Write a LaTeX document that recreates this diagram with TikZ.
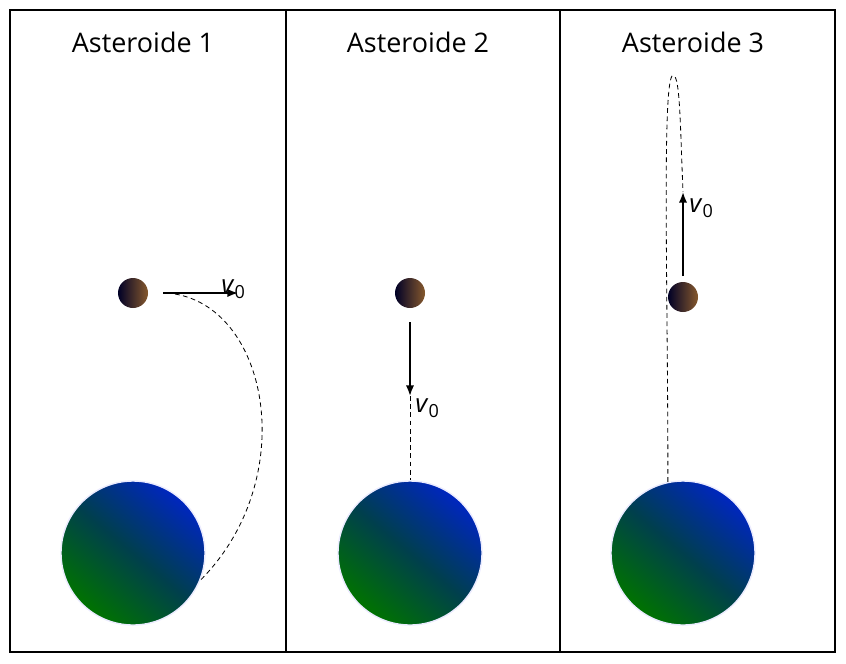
\documentclass[tikz,border=0pt]{standalone}
\usepackage{fontspec}
\usetikzlibrary{arrows.meta}
\setmainfont{Open Sans}
\begin{document}
\begin{tikzpicture}[x=0.03cm,y=-0.03cm]
  \tikzset{
    title/.style={font=\fontsize{23}{27}\selectfont},
    vel/.style={font=\fontsize{22}{26}\selectfont, inner sep=1pt},
    planet/.style={circle, minimum size=4.32cm, inner sep=0pt, draw=blue!8, line width=1.2pt,
      shading=axis, bottom color=green!45!black, top color=blue!80!cyan!75!black,
      middle color=blue!55!green!55!black, shading angle=-40},
    rock/.style={circle, minimum size=0.9cm, inner sep=0pt,
      left color=black!85!blue, right color=brown!70!black},
    push/.style={-{Latex[length=9pt,width=7pt]}, line width=1.5pt},
    track/.style={dash pattern=on 4pt off 3pt, line width=0.7pt}
  }
  \useasboundingbox (0,0) rectangle (846,663);
  % frames
  \draw[line width=1.4pt] (10,10) rectangle (835,652);
  \draw[line width=1.4pt] (286,10) -- (286,652);
  \draw[line width=1.4pt] (560,10) -- (560,652);
  \node[title] at (143,42) {Asteroide 1};
  \node[title] at (418,42) {Asteroide 2};
  \node[title] at (693,42) {Asteroide 3};
  % planets
  \node[planet] (p1) at (133,553) {};
  \node[planet] (p2) at (410,553) {};
  \node[planet] (p3) at (683,553) {};
  % asteroid 1
  \node[rock] (a1) at (133,293) {};
  \coordinate (s1) at (163,293);
  \coordinate (e1) at (238,293);
  \node[vel, anchor=south west] (v1) at (220,300) {\textit{v}\textsubscript{0}};
  \draw[push] (s1) -- (e1);
  \draw[track] (175,294) .. controls (270,310) and (300,480) .. (p1.-22);
  % asteroid 2
  \node[rock] (a2) at (410,293) {};
  \coordinate (s2) at (410,322);
  \coordinate (e2) at (410,396);
  \node[vel, anchor=west] (v2) at (414,408) {\textit{v}\textsubscript{0}};
  \draw[push] (s2) -- (e2);
  \draw[track] (e2) -- (p2.north);
  % asteroid 3
  \node[rock] (a3) at (683,297) {};
  \coordinate (s3) at (683,276);
  \coordinate (e3) at (683,192);
  \node[vel, anchor=west] (v3) at (688,208) {\textit{v}\textsubscript{0}};
  \draw[push] (s3) -- (e3);
  \draw[track] (p3.102) .. controls (668,300) and (662,90) .. (672,76)
    .. controls (680,70) and (680,120) .. (e3);
\end{tikzpicture}
\end{document}
